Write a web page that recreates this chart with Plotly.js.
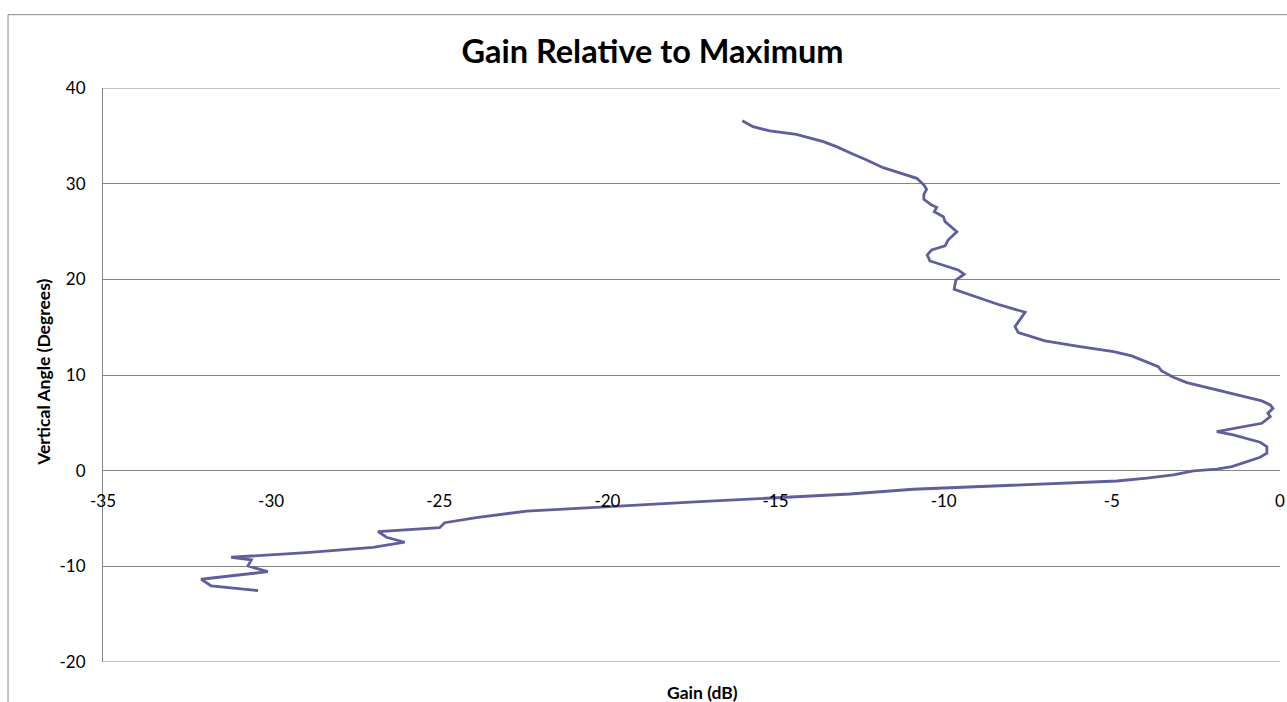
<!DOCTYPE html>
<html>
<head>
<meta charset="utf-8">
<script src="https://cdn.plot.ly/plotly-3.0.1.min.js"></script>
<style>
  html, body { margin: 0; padding: 0; background: #ffffff; }
  #chart { width: 1287px; height: 702px; }
</style>
</head>
<body>
<div id="chart"></div>
<script>
// Vertical angle (degrees) and gain relative to maximum (dB)
const angleDeg = [
  36.58, 35.96, 35.51, 35.16, 34.39, 33.87, 33.07, 32.48, 31.67, 31.09,
  30.56, 29.86, 29.41, 28.89, 28.37, 27.77, 27.53, 27.07, 26.55, 26.03,
  24.98, 24.11, 23.49, 23.07, 22.55, 21.92, 21.57, 20.98, 20.53, 19.93,
  18.96, 18.37, 17.32, 16.56, 15.05, 14.43, 13.56, 13.03, 12.44, 11.99,
  10.87, 10.42, 9.76, 9.20, 8.54, 7.81, 7.29, 6.87, 6.52, 6.00,
  5.65, 4.95, 4.43, 4.08, 3.73, 2.97, 2.51, 1.82, 1.40, 0.42,
  0.15, -0.03, -0.45, -0.79, -1.08, -1.94, -2.44, -2.80, -3.24, -3.76,
  -4.22, -4.91, -5.44, -5.96, -6.38, -6.96, -7.48, -8.01, -8.57, -9.05,
  -9.33, -9.96, -10.56, -11.35, -12.05, -12.54
];
const gainDb = [
  -15.99, -15.67, -15.17, -14.38, -13.58, -13.19, -12.69, -12.29, -11.80, -11.30,
  -10.80, -10.59, -10.51, -10.59, -10.59, -10.36, -10.21, -10.28, -10.01, -9.96,
  -9.61, -9.87, -9.96, -10.36, -10.49, -10.41, -10.11, -9.57, -9.39, -9.64,
  -9.69, -9.22, -8.33, -7.58, -7.88, -7.78, -6.99, -6.04, -4.95, -4.41,
  -3.62, -3.52, -3.17, -2.77, -1.98, -1.19, -0.54, -0.29, -0.21, -0.36,
  -0.29, -0.54, -1.39, -1.88, -1.39, -0.59, -0.39, -0.39, -0.59, -1.43,
  -1.88, -2.57, -3.17, -3.96, -4.85, -10.91, -12.79, -14.87, -17.25, -19.93,
  -22.40, -23.90, -24.84, -24.99, -26.82, -26.57, -26.03, -26.97, -28.95, -31.19,
  -30.59, -30.69, -30.10, -32.08, -31.78, -30.39
];
const xTickVals = [-35, -30, -25, -20, -15, -10, -5, 0];
const yTickVals = [-20, -10, 0, 10, 20, 30, 40];
const yRange = [-20, 40];

const chartTitle = 'Gain Relative to Maximum';
const xTitle = 'Gain (dB)';
const yTitle = 'Vertical Angle (Degrees)';

const FONT = 'Lato, "Open Sans", sans-serif';
const GRID = '#868686';

const trace = {
  x: gainDb,
  y: angleDeg,
  type: 'scatter',
  mode: 'lines',
  line: { color: '#5f5f9e', width: 2.8 },
  hoverinfo: 'skip',
  showlegend: false
};

const edgeLines = yRange.map(v => ({
  type: 'line', xref: 'paper', yref: 'y',
  x0: 0, x1: 1, y0: v, y1: v,
  line: { color: GRID, width: 1 }, layer: 'below'
}));

const layout = {
  width: 1287,
  height: 702,
  margin: { l: 103, r: 7, t: 88, b: 40 },
  paper_bgcolor: '#ffffff',
  plot_bgcolor: '#ffffff',
  font: { family: FONT, color: '#000000', size: 17 },
  title: {
    text: '<b>' + chartTitle + '</b>',
    font: { family: FONT, size: 32.5, color: '#000000' },
    xref: 'container', x: 0.507, xanchor: 'center',
    yref: 'container', y: 0.926, yanchor: 'middle'
  },
  xaxis: {
    range: [-35, 0],
    tickvals: xTickVals,
    ticktext: xTickVals.map(String),
    anchor: 'free',
    position: 1 / 3,
    showgrid: false,
    zeroline: false,
    showline: false,
    ticks: '',
    ticklabelstandoff: 18,
    tickfont: { family: FONT, size: 17, color: '#000000' },
    fixedrange: true
  },
  yaxis: {
    range: yRange,
    tickvals: yTickVals,
    ticktext: yTickVals.map(String),
    showgrid: true,
    gridcolor: GRID,
    gridwidth: 1,
    zeroline: false,
    showline: true,
    linecolor: GRID,
    linewidth: 1,
    ticks: '',
    ticklabelstandoff: 13,
    tickfont: { family: FONT, size: 17, color: '#000000' },
    fixedrange: true
  },
  annotations: [{
    text: '<b>' + xTitle + '</b>',
    xref: 'paper', yref: 'paper',
    x: 0.509, y: -0.054,
    xanchor: 'center', yanchor: 'middle',
    showarrow: false,
    font: { family: FONT, size: 17.5, color: '#000000' }
  }, {
    text: '<b>' + yTitle + '</b>',
    xref: 'paper', yref: 'paper',
    x: (43.5 - 103) / 1177, y: 0.5047,
    xanchor: 'center', yanchor: 'middle',
    textangle: -90,
    showarrow: false,
    font: { family: FONT, size: 17.5, color: '#000000' }
  }],
  shapes: edgeLines.concat([{
    type: 'rect',
    xref: 'paper', yref: 'paper',
    x0: -0.0807, x1: 1.2,
    y0: -0.3, y1: 1.1277,
    line: { color: '#888888', width: 1 },
    fillcolor: 'rgba(0,0,0,0)',
    layer: 'below'
  }])
};

Plotly.newPlot('chart', [trace], layout, { displayModeBar: false, staticPlot: true });
</script>
</body>
</html>
